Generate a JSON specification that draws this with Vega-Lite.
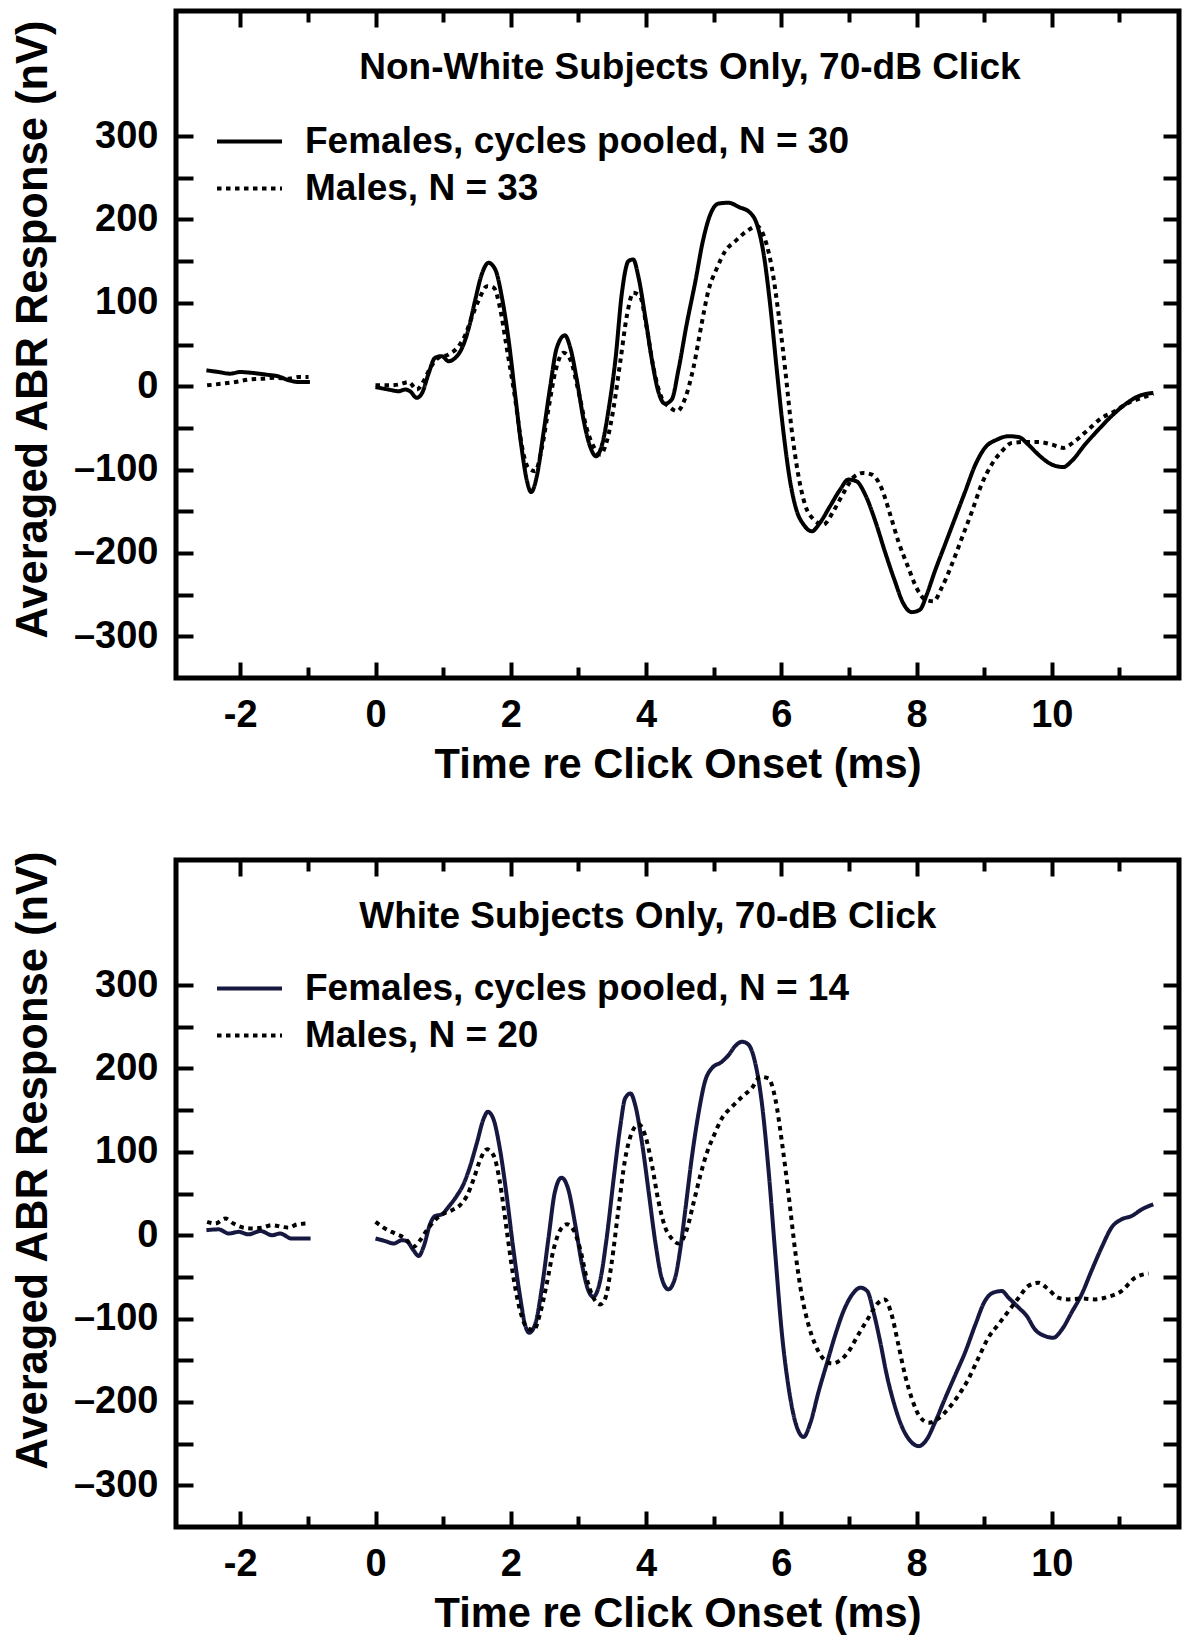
{
  "$schema": "https://vega.github.io/schema/vega-lite/v6.json",
  "padding": {"left": 8, "top": 6, "right": 5, "bottom": 0},
  "background": "white",
  "datasets": {
    "top": [
      {"t": -2.5, "v": 19, "g": "F", "s": "pre"}, {"t": -2.32, "v": 17, "g": "F", "s": "pre"}, {"t": -2.15, "v": 15, "g": "F", "s": "pre"}, {"t": -2.0, "v": 17, "g": "F", "s": "pre"}, {"t": -1.83, "v": 16, "g": "F", "s": "pre"}, {"t": -1.63, "v": 14, "g": "F", "s": "pre"}, {"t": -1.43, "v": 11.6, "g": "F", "s": "pre"}, {"t": -1.28, "v": 7, "g": "F", "s": "pre"}, {"t": -1.14, "v": 5, "g": "F", "s": "pre"}, {"t": -0.97, "v": 5, "g": "F", "s": "pre"},
      {"t": 0.0, "v": -1, "g": "F", "s": "post"}, {"t": 0.19, "v": -4, "g": "F", "s": "post"}, {"t": 0.34, "v": -6, "g": "F", "s": "post"}, {"t": 0.44, "v": -4, "g": "F", "s": "post"}, {"t": 0.51, "v": -6, "g": "F", "s": "post"}, {"t": 0.61, "v": -14, "g": "F", "s": "post"}, {"t": 0.69, "v": -8, "g": "F", "s": "post"}, {"t": 0.78, "v": 14, "g": "F", "s": "post"}, {"t": 0.88, "v": 34, "g": "F", "s": "post"}, {"t": 0.98, "v": 36, "g": "F", "s": "post"}, {"t": 1.08, "v": 30, "g": "F", "s": "post"}, {"t": 1.18, "v": 34, "g": "F", "s": "post"}, {"t": 1.28, "v": 46, "g": "F", "s": "post"}, {"t": 1.38, "v": 70, "g": "F", "s": "post"}, {"t": 1.47, "v": 102, "g": "F", "s": "post"}, {"t": 1.57, "v": 134, "g": "F", "s": "post"}, {"t": 1.67, "v": 148, "g": "F", "s": "post"}, {"t": 1.77, "v": 140, "g": "F", "s": "post"}, {"t": 1.87, "v": 106, "g": "F", "s": "post"}, {"t": 1.97, "v": 54, "g": "F", "s": "post"}, {"t": 2.07, "v": -14, "g": "F", "s": "post"}, {"t": 2.16, "v": -74, "g": "F", "s": "post"}, {"t": 2.24, "v": -114, "g": "F", "s": "post"}, {"t": 2.3, "v": -127, "g": "F", "s": "post"}, {"t": 2.39, "v": -106, "g": "F", "s": "post"}, {"t": 2.48, "v": -58, "g": "F", "s": "post"}, {"t": 2.58, "v": -2, "g": "F", "s": "post"}, {"t": 2.68, "v": 46, "g": "F", "s": "post"}, {"t": 2.8, "v": 61, "g": "F", "s": "post"}, {"t": 2.88, "v": 46, "g": "F", "s": "post"}, {"t": 2.98, "v": 6, "g": "F", "s": "post"}, {"t": 3.08, "v": -42, "g": "F", "s": "post"}, {"t": 3.18, "v": -74, "g": "F", "s": "post"}, {"t": 3.26, "v": -84, "g": "F", "s": "post"}, {"t": 3.35, "v": -70, "g": "F", "s": "post"}, {"t": 3.45, "v": -26, "g": "F", "s": "post"}, {"t": 3.55, "v": 34, "g": "F", "s": "post"}, {"t": 3.64, "v": 110, "g": "F", "s": "post"}, {"t": 3.74, "v": 150, "g": "F", "s": "post"}, {"t": 3.81, "v": 152, "g": "F", "s": "post"}, {"t": 3.89, "v": 130, "g": "F", "s": "post"}, {"t": 3.99, "v": 82, "g": "F", "s": "post"}, {"t": 4.09, "v": 30, "g": "F", "s": "post"}, {"t": 4.18, "v": -6, "g": "F", "s": "post"}, {"t": 4.28, "v": -21, "g": "F", "s": "post"}, {"t": 4.38, "v": -16, "g": "F", "s": "post"}, {"t": 4.48, "v": 20, "g": "F", "s": "post"}, {"t": 4.6, "v": 74, "g": "F", "s": "post"}, {"t": 4.73, "v": 126, "g": "F", "s": "post"}, {"t": 4.84, "v": 174, "g": "F", "s": "post"}, {"t": 4.95, "v": 206, "g": "F", "s": "post"}, {"t": 5.07, "v": 219, "g": "F", "s": "post"}, {"t": 5.22, "v": 220, "g": "F", "s": "post"}, {"t": 5.37, "v": 215, "g": "F", "s": "post"}, {"t": 5.54, "v": 208, "g": "F", "s": "post"}, {"t": 5.64, "v": 194, "g": "F", "s": "post"}, {"t": 5.74, "v": 158, "g": "F", "s": "post"}, {"t": 5.84, "v": 94, "g": "F", "s": "post"}, {"t": 5.93, "v": 22, "g": "F", "s": "post"}, {"t": 6.03, "v": -54, "g": "F", "s": "post"}, {"t": 6.13, "v": -114, "g": "F", "s": "post"}, {"t": 6.23, "v": -150, "g": "F", "s": "post"}, {"t": 6.33, "v": -166, "g": "F", "s": "post"}, {"t": 6.45, "v": -174, "g": "F", "s": "post"}, {"t": 6.57, "v": -164, "g": "F", "s": "post"}, {"t": 6.72, "v": -144, "g": "F", "s": "post"}, {"t": 6.87, "v": -124, "g": "F", "s": "post"}, {"t": 6.99, "v": -112, "g": "F", "s": "post"}, {"t": 7.11, "v": -114, "g": "F", "s": "post"}, {"t": 7.24, "v": -130, "g": "F", "s": "post"}, {"t": 7.39, "v": -162, "g": "F", "s": "post"}, {"t": 7.53, "v": -198, "g": "F", "s": "post"}, {"t": 7.68, "v": -234, "g": "F", "s": "post"}, {"t": 7.8, "v": -260, "g": "F", "s": "post"}, {"t": 7.93, "v": -271, "g": "F", "s": "post"}, {"t": 8.05, "v": -268, "g": "F", "s": "post"}, {"t": 8.15, "v": -250, "g": "F", "s": "post"}, {"t": 8.27, "v": -222, "g": "F", "s": "post"}, {"t": 8.42, "v": -190, "g": "F", "s": "post"}, {"t": 8.57, "v": -158, "g": "F", "s": "post"}, {"t": 8.72, "v": -126, "g": "F", "s": "post"}, {"t": 8.87, "v": -94, "g": "F", "s": "post"}, {"t": 9.01, "v": -74, "g": "F", "s": "post"}, {"t": 9.19, "v": -64, "g": "F", "s": "post"}, {"t": 9.36, "v": -60, "g": "F", "s": "post"}, {"t": 9.51, "v": -61, "g": "F", "s": "post"}, {"t": 9.65, "v": -70, "g": "F", "s": "post"}, {"t": 9.8, "v": -82, "g": "F", "s": "post"}, {"t": 10.0, "v": -94, "g": "F", "s": "post"}, {"t": 10.17, "v": -97, "g": "F", "s": "post"}, {"t": 10.29, "v": -90, "g": "F", "s": "post"}, {"t": 10.49, "v": -70, "g": "F", "s": "post"}, {"t": 10.69, "v": -52, "g": "F", "s": "post"}, {"t": 10.88, "v": -36, "g": "F", "s": "post"}, {"t": 11.08, "v": -22, "g": "F", "s": "post"}, {"t": 11.28, "v": -12, "g": "F", "s": "post"}, {"t": 11.5, "v": -8, "g": "F", "s": "post"},
      {"t": -2.49, "v": 1, "g": "M", "s": "pre"}, {"t": -2.27, "v": 3, "g": "M", "s": "pre"}, {"t": -2.07, "v": 5, "g": "M", "s": "pre"}, {"t": -1.88, "v": 8, "g": "M", "s": "pre"}, {"t": -1.68, "v": 9, "g": "M", "s": "pre"}, {"t": -1.48, "v": 10, "g": "M", "s": "pre"}, {"t": -1.28, "v": 9, "g": "M", "s": "pre"}, {"t": -1.14, "v": 11, "g": "M", "s": "pre"}, {"t": -0.99, "v": 11, "g": "M", "s": "pre"},
      {"t": 0.0, "v": 1, "g": "M", "s": "post"}, {"t": 0.19, "v": 1, "g": "M", "s": "post"}, {"t": 0.34, "v": 2, "g": "M", "s": "post"}, {"t": 0.49, "v": 5, "g": "M", "s": "post"}, {"t": 0.61, "v": -4, "g": "M", "s": "post"}, {"t": 0.71, "v": 6, "g": "M", "s": "post"}, {"t": 0.81, "v": 22, "g": "M", "s": "post"}, {"t": 0.93, "v": 34, "g": "M", "s": "post"}, {"t": 1.08, "v": 38, "g": "M", "s": "post"}, {"t": 1.23, "v": 48, "g": "M", "s": "post"}, {"t": 1.33, "v": 62, "g": "M", "s": "post"}, {"t": 1.42, "v": 82, "g": "M", "s": "post"}, {"t": 1.52, "v": 102, "g": "M", "s": "post"}, {"t": 1.65, "v": 120, "g": "M", "s": "post"}, {"t": 1.75, "v": 118, "g": "M", "s": "post"}, {"t": 1.84, "v": 94, "g": "M", "s": "post"}, {"t": 1.94, "v": 46, "g": "M", "s": "post"}, {"t": 2.07, "v": -18, "g": "M", "s": "post"}, {"t": 2.16, "v": -70, "g": "M", "s": "post"}, {"t": 2.26, "v": -98, "g": "M", "s": "post"}, {"t": 2.36, "v": -102, "g": "M", "s": "post"}, {"t": 2.46, "v": -74, "g": "M", "s": "post"}, {"t": 2.56, "v": -26, "g": "M", "s": "post"}, {"t": 2.66, "v": 18, "g": "M", "s": "post"}, {"t": 2.78, "v": 40, "g": "M", "s": "post"}, {"t": 2.88, "v": 32, "g": "M", "s": "post"}, {"t": 3.0, "v": -6, "g": "M", "s": "post"}, {"t": 3.12, "v": -50, "g": "M", "s": "post"}, {"t": 3.25, "v": -76, "g": "M", "s": "post"}, {"t": 3.32, "v": -82, "g": "M", "s": "post"}, {"t": 3.42, "v": -66, "g": "M", "s": "post"}, {"t": 3.52, "v": -26, "g": "M", "s": "post"}, {"t": 3.62, "v": 30, "g": "M", "s": "post"}, {"t": 3.72, "v": 86, "g": "M", "s": "post"}, {"t": 3.81, "v": 112, "g": "M", "s": "post"}, {"t": 3.91, "v": 108, "g": "M", "s": "post"}, {"t": 4.01, "v": 70, "g": "M", "s": "post"}, {"t": 4.11, "v": 22, "g": "M", "s": "post"}, {"t": 4.23, "v": -14, "g": "M", "s": "post"}, {"t": 4.36, "v": -26, "g": "M", "s": "post"}, {"t": 4.46, "v": -30, "g": "M", "s": "post"}, {"t": 4.58, "v": -14, "g": "M", "s": "post"}, {"t": 4.7, "v": 22, "g": "M", "s": "post"}, {"t": 4.82, "v": 74, "g": "M", "s": "post"}, {"t": 4.92, "v": 114, "g": "M", "s": "post"}, {"t": 5.05, "v": 142, "g": "M", "s": "post"}, {"t": 5.17, "v": 162, "g": "M", "s": "post"}, {"t": 5.32, "v": 174, "g": "M", "s": "post"}, {"t": 5.49, "v": 186, "g": "M", "s": "post"}, {"t": 5.64, "v": 192, "g": "M", "s": "post"}, {"t": 5.76, "v": 176, "g": "M", "s": "post"}, {"t": 5.86, "v": 142, "g": "M", "s": "post"}, {"t": 5.96, "v": 86, "g": "M", "s": "post"}, {"t": 6.06, "v": 18, "g": "M", "s": "post"}, {"t": 6.15, "v": -50, "g": "M", "s": "post"}, {"t": 6.25, "v": -106, "g": "M", "s": "post"}, {"t": 6.35, "v": -142, "g": "M", "s": "post"}, {"t": 6.48, "v": -160, "g": "M", "s": "post"}, {"t": 6.62, "v": -166, "g": "M", "s": "post"}, {"t": 6.77, "v": -150, "g": "M", "s": "post"}, {"t": 6.92, "v": -128, "g": "M", "s": "post"}, {"t": 7.07, "v": -109, "g": "M", "s": "post"}, {"t": 7.21, "v": -104, "g": "M", "s": "post"}, {"t": 7.34, "v": -106, "g": "M", "s": "post"}, {"t": 7.48, "v": -122, "g": "M", "s": "post"}, {"t": 7.61, "v": -154, "g": "M", "s": "post"}, {"t": 7.73, "v": -186, "g": "M", "s": "post"}, {"t": 7.88, "v": -218, "g": "M", "s": "post"}, {"t": 8.0, "v": -242, "g": "M", "s": "post"}, {"t": 8.13, "v": -256, "g": "M", "s": "post"}, {"t": 8.25, "v": -258, "g": "M", "s": "post"}, {"t": 8.37, "v": -242, "g": "M", "s": "post"}, {"t": 8.52, "v": -214, "g": "M", "s": "post"}, {"t": 8.67, "v": -182, "g": "M", "s": "post"}, {"t": 8.82, "v": -150, "g": "M", "s": "post"}, {"t": 8.96, "v": -118, "g": "M", "s": "post"}, {"t": 9.11, "v": -94, "g": "M", "s": "post"}, {"t": 9.26, "v": -78, "g": "M", "s": "post"}, {"t": 9.41, "v": -68, "g": "M", "s": "post"}, {"t": 9.6, "v": -67, "g": "M", "s": "post"}, {"t": 9.8, "v": -67, "g": "M", "s": "post"}, {"t": 10.0, "v": -70, "g": "M", "s": "post"}, {"t": 10.17, "v": -74, "g": "M", "s": "post"}, {"t": 10.34, "v": -66, "g": "M", "s": "post"}, {"t": 10.54, "v": -52, "g": "M", "s": "post"}, {"t": 10.74, "v": -38, "g": "M", "s": "post"}, {"t": 10.93, "v": -30, "g": "M", "s": "post"}, {"t": 11.13, "v": -20, "g": "M", "s": "post"}, {"t": 11.33, "v": -14, "g": "M", "s": "post"}, {"t": 11.5, "v": -9, "g": "M", "s": "post"}
    ],
    "bottom": [
      {"t": -2.5, "v": 6, "g": "F", "s": "pre"}, {"t": -2.32, "v": 7, "g": "F", "s": "pre"}, {"t": -2.17, "v": 2, "g": "F", "s": "pre"}, {"t": -2.02, "v": 4, "g": "F", "s": "pre"}, {"t": -1.88, "v": 1, "g": "F", "s": "pre"}, {"t": -1.7, "v": 5, "g": "F", "s": "pre"}, {"t": -1.53, "v": 0, "g": "F", "s": "pre"}, {"t": -1.41, "v": 2, "g": "F", "s": "pre"}, {"t": -1.24, "v": -4, "g": "F", "s": "pre"}, {"t": -0.96, "v": -4, "g": "F", "s": "pre"},
      {"t": 0.0, "v": -4, "g": "F", "s": "post"}, {"t": 0.14, "v": -7, "g": "F", "s": "post"}, {"t": 0.27, "v": -10, "g": "F", "s": "post"}, {"t": 0.39, "v": -6, "g": "F", "s": "post"}, {"t": 0.46, "v": -7, "g": "F", "s": "post"}, {"t": 0.56, "v": -18, "g": "F", "s": "post"}, {"t": 0.64, "v": -25, "g": "F", "s": "post"}, {"t": 0.71, "v": -14, "g": "F", "s": "post"}, {"t": 0.81, "v": 14, "g": "F", "s": "post"}, {"t": 0.88, "v": 23, "g": "F", "s": "post"}, {"t": 0.98, "v": 25, "g": "F", "s": "post"}, {"t": 1.08, "v": 34, "g": "F", "s": "post"}, {"t": 1.2, "v": 47, "g": "F", "s": "post"}, {"t": 1.3, "v": 61, "g": "F", "s": "post"}, {"t": 1.4, "v": 83, "g": "F", "s": "post"}, {"t": 1.5, "v": 111, "g": "F", "s": "post"}, {"t": 1.6, "v": 140, "g": "F", "s": "post"}, {"t": 1.66, "v": 148, "g": "F", "s": "post"}, {"t": 1.74, "v": 140, "g": "F", "s": "post"}, {"t": 1.84, "v": 103, "g": "F", "s": "post"}, {"t": 1.94, "v": 47, "g": "F", "s": "post"}, {"t": 2.04, "v": -18, "g": "F", "s": "post"}, {"t": 2.14, "v": -75, "g": "F", "s": "post"}, {"t": 2.21, "v": -107, "g": "F", "s": "post"}, {"t": 2.27, "v": -117, "g": "F", "s": "post"}, {"t": 2.36, "v": -107, "g": "F", "s": "post"}, {"t": 2.46, "v": -63, "g": "F", "s": "post"}, {"t": 2.56, "v": -2, "g": "F", "s": "post"}, {"t": 2.65, "v": 51, "g": "F", "s": "post"}, {"t": 2.75, "v": 69, "g": "F", "s": "post"}, {"t": 2.85, "v": 55, "g": "F", "s": "post"}, {"t": 2.95, "v": 14, "g": "F", "s": "post"}, {"t": 3.05, "v": -34, "g": "F", "s": "post"}, {"t": 3.15, "v": -67, "g": "F", "s": "post"}, {"t": 3.22, "v": -74, "g": "F", "s": "post"}, {"t": 3.32, "v": -55, "g": "F", "s": "post"}, {"t": 3.42, "v": -2, "g": "F", "s": "post"}, {"t": 3.52, "v": 67, "g": "F", "s": "post"}, {"t": 3.62, "v": 131, "g": "F", "s": "post"}, {"t": 3.69, "v": 164, "g": "F", "s": "post"}, {"t": 3.77, "v": 170, "g": "F", "s": "post"}, {"t": 3.84, "v": 156, "g": "F", "s": "post"}, {"t": 3.94, "v": 111, "g": "F", "s": "post"}, {"t": 4.04, "v": 51, "g": "F", "s": "post"}, {"t": 4.14, "v": -10, "g": "F", "s": "post"}, {"t": 4.23, "v": -51, "g": "F", "s": "post"}, {"t": 4.33, "v": -65, "g": "F", "s": "post"}, {"t": 4.43, "v": -51, "g": "F", "s": "post"}, {"t": 4.5, "v": -20, "g": "F", "s": "post"}, {"t": 4.58, "v": 30, "g": "F", "s": "post"}, {"t": 4.68, "v": 95, "g": "F", "s": "post"}, {"t": 4.78, "v": 148, "g": "F", "s": "post"}, {"t": 4.87, "v": 184, "g": "F", "s": "post"}, {"t": 4.97, "v": 200, "g": "F", "s": "post"}, {"t": 5.12, "v": 208, "g": "F", "s": "post"}, {"t": 5.22, "v": 216, "g": "F", "s": "post"}, {"t": 5.32, "v": 227, "g": "F", "s": "post"}, {"t": 5.42, "v": 232, "g": "F", "s": "post"}, {"t": 5.51, "v": 229, "g": "F", "s": "post"}, {"t": 5.61, "v": 208, "g": "F", "s": "post"}, {"t": 5.71, "v": 160, "g": "F", "s": "post"}, {"t": 5.81, "v": 79, "g": "F", "s": "post"}, {"t": 5.91, "v": -22, "g": "F", "s": "post"}, {"t": 6.01, "v": -119, "g": "F", "s": "post"}, {"t": 6.11, "v": -184, "g": "F", "s": "post"}, {"t": 6.21, "v": -225, "g": "F", "s": "post"}, {"t": 6.33, "v": -242, "g": "F", "s": "post"}, {"t": 6.43, "v": -225, "g": "F", "s": "post"}, {"t": 6.55, "v": -188, "g": "F", "s": "post"}, {"t": 6.68, "v": -152, "g": "F", "s": "post"}, {"t": 6.8, "v": -119, "g": "F", "s": "post"}, {"t": 6.92, "v": -91, "g": "F", "s": "post"}, {"t": 7.05, "v": -71, "g": "F", "s": "post"}, {"t": 7.17, "v": -63, "g": "F", "s": "post"}, {"t": 7.27, "v": -67, "g": "F", "s": "post"}, {"t": 7.36, "v": -91, "g": "F", "s": "post"}, {"t": 7.46, "v": -127, "g": "F", "s": "post"}, {"t": 7.56, "v": -168, "g": "F", "s": "post"}, {"t": 7.66, "v": -200, "g": "F", "s": "post"}, {"t": 7.78, "v": -229, "g": "F", "s": "post"}, {"t": 7.91, "v": -247, "g": "F", "s": "post"}, {"t": 8.03, "v": -253, "g": "F", "s": "post"}, {"t": 8.15, "v": -245, "g": "F", "s": "post"}, {"t": 8.27, "v": -225, "g": "F", "s": "post"}, {"t": 8.42, "v": -196, "g": "F", "s": "post"}, {"t": 8.57, "v": -168, "g": "F", "s": "post"}, {"t": 8.72, "v": -140, "g": "F", "s": "post"}, {"t": 8.87, "v": -107, "g": "F", "s": "post"}, {"t": 9.01, "v": -79, "g": "F", "s": "post"}, {"t": 9.13, "v": -69, "g": "F", "s": "post"}, {"t": 9.26, "v": -67, "g": "F", "s": "post"}, {"t": 9.36, "v": -75, "g": "F", "s": "post"}, {"t": 9.51, "v": -87, "g": "F", "s": "post"}, {"t": 9.63, "v": -97, "g": "F", "s": "post"}, {"t": 9.75, "v": -113, "g": "F", "s": "post"}, {"t": 9.9, "v": -121, "g": "F", "s": "post"}, {"t": 10.02, "v": -123, "g": "F", "s": "post"}, {"t": 10.15, "v": -113, "g": "F", "s": "post"}, {"t": 10.29, "v": -93, "g": "F", "s": "post"}, {"t": 10.44, "v": -71, "g": "F", "s": "post"}, {"t": 10.59, "v": -42, "g": "F", "s": "post"}, {"t": 10.74, "v": -14, "g": "F", "s": "post"}, {"t": 10.89, "v": 10, "g": "F", "s": "post"}, {"t": 11.03, "v": 19, "g": "F", "s": "post"}, {"t": 11.18, "v": 23, "g": "F", "s": "post"}, {"t": 11.33, "v": 31, "g": "F", "s": "post"}, {"t": 11.5, "v": 37, "g": "F", "s": "post"},
      {"t": -2.49, "v": 16, "g": "M", "s": "pre"}, {"t": -2.37, "v": 14, "g": "M", "s": "pre"}, {"t": -2.22, "v": 20, "g": "M", "s": "pre"}, {"t": -2.1, "v": 14, "g": "M", "s": "pre"}, {"t": -1.95, "v": 9, "g": "M", "s": "pre"}, {"t": -1.8, "v": 8, "g": "M", "s": "pre"}, {"t": -1.68, "v": 9, "g": "M", "s": "pre"}, {"t": -1.53, "v": 12, "g": "M", "s": "pre"}, {"t": -1.38, "v": 10, "g": "M", "s": "pre"}, {"t": -1.28, "v": 9, "g": "M", "s": "pre"}, {"t": -1.16, "v": 13, "g": "M", "s": "pre"}, {"t": -1.01, "v": 14, "g": "M", "s": "pre"},
      {"t": 0.0, "v": 16, "g": "M", "s": "post"}, {"t": 0.14, "v": 8, "g": "M", "s": "post"}, {"t": 0.29, "v": 2, "g": "M", "s": "post"}, {"t": 0.44, "v": -4, "g": "M", "s": "post"}, {"t": 0.56, "v": -14, "g": "M", "s": "post"}, {"t": 0.66, "v": -6, "g": "M", "s": "post"}, {"t": 0.76, "v": 6, "g": "M", "s": "post"}, {"t": 0.88, "v": 18, "g": "M", "s": "post"}, {"t": 1.01, "v": 26, "g": "M", "s": "post"}, {"t": 1.13, "v": 30, "g": "M", "s": "post"}, {"t": 1.25, "v": 36, "g": "M", "s": "post"}, {"t": 1.35, "v": 47, "g": "M", "s": "post"}, {"t": 1.45, "v": 67, "g": "M", "s": "post"}, {"t": 1.55, "v": 91, "g": "M", "s": "post"}, {"t": 1.65, "v": 103, "g": "M", "s": "post"}, {"t": 1.75, "v": 95, "g": "M", "s": "post"}, {"t": 1.84, "v": 63, "g": "M", "s": "post"}, {"t": 1.94, "v": 6, "g": "M", "s": "post"}, {"t": 2.04, "v": -51, "g": "M", "s": "post"}, {"t": 2.14, "v": -91, "g": "M", "s": "post"}, {"t": 2.24, "v": -111, "g": "M", "s": "post"}, {"t": 2.34, "v": -114, "g": "M", "s": "post"}, {"t": 2.43, "v": -95, "g": "M", "s": "post"}, {"t": 2.53, "v": -59, "g": "M", "s": "post"}, {"t": 2.63, "v": -18, "g": "M", "s": "post"}, {"t": 2.73, "v": 6, "g": "M", "s": "post"}, {"t": 2.83, "v": 13, "g": "M", "s": "post"}, {"t": 2.93, "v": 6, "g": "M", "s": "post"}, {"t": 3.03, "v": -18, "g": "M", "s": "post"}, {"t": 3.12, "v": -51, "g": "M", "s": "post"}, {"t": 3.22, "v": -75, "g": "M", "s": "post"}, {"t": 3.32, "v": -83, "g": "M", "s": "post"}, {"t": 3.4, "v": -75, "g": "M", "s": "post"}, {"t": 3.49, "v": -34, "g": "M", "s": "post"}, {"t": 3.59, "v": 30, "g": "M", "s": "post"}, {"t": 3.69, "v": 91, "g": "M", "s": "post"}, {"t": 3.79, "v": 123, "g": "M", "s": "post"}, {"t": 3.89, "v": 133, "g": "M", "s": "post"}, {"t": 3.99, "v": 119, "g": "M", "s": "post"}, {"t": 4.09, "v": 83, "g": "M", "s": "post"}, {"t": 4.18, "v": 42, "g": "M", "s": "post"}, {"t": 4.28, "v": 10, "g": "M", "s": "post"}, {"t": 4.38, "v": -4, "g": "M", "s": "post"}, {"t": 4.48, "v": -10, "g": "M", "s": "post"}, {"t": 4.6, "v": 6, "g": "M", "s": "post"}, {"t": 4.7, "v": 38, "g": "M", "s": "post"}, {"t": 4.8, "v": 71, "g": "M", "s": "post"}, {"t": 4.9, "v": 99, "g": "M", "s": "post"}, {"t": 5.0, "v": 119, "g": "M", "s": "post"}, {"t": 5.12, "v": 140, "g": "M", "s": "post"}, {"t": 5.27, "v": 154, "g": "M", "s": "post"}, {"t": 5.42, "v": 166, "g": "M", "s": "post"}, {"t": 5.56, "v": 176, "g": "M", "s": "post"}, {"t": 5.69, "v": 190, "g": "M", "s": "post"}, {"t": 5.81, "v": 188, "g": "M", "s": "post"}, {"t": 5.91, "v": 164, "g": "M", "s": "post"}, {"t": 6.01, "v": 111, "g": "M", "s": "post"}, {"t": 6.11, "v": 47, "g": "M", "s": "post"}, {"t": 6.21, "v": -22, "g": "M", "s": "post"}, {"t": 6.3, "v": -71, "g": "M", "s": "post"}, {"t": 6.4, "v": -107, "g": "M", "s": "post"}, {"t": 6.5, "v": -131, "g": "M", "s": "post"}, {"t": 6.62, "v": -148, "g": "M", "s": "post"}, {"t": 6.75, "v": -154, "g": "M", "s": "post"}, {"t": 6.87, "v": -150, "g": "M", "s": "post"}, {"t": 6.99, "v": -140, "g": "M", "s": "post"}, {"t": 7.14, "v": -119, "g": "M", "s": "post"}, {"t": 7.29, "v": -99, "g": "M", "s": "post"}, {"t": 7.41, "v": -83, "g": "M", "s": "post"}, {"t": 7.53, "v": -77, "g": "M", "s": "post"}, {"t": 7.63, "v": -95, "g": "M", "s": "post"}, {"t": 7.73, "v": -131, "g": "M", "s": "post"}, {"t": 7.83, "v": -168, "g": "M", "s": "post"}, {"t": 7.93, "v": -196, "g": "M", "s": "post"}, {"t": 8.05, "v": -218, "g": "M", "s": "post"}, {"t": 8.18, "v": -225, "g": "M", "s": "post"}, {"t": 8.32, "v": -220, "g": "M", "s": "post"}, {"t": 8.47, "v": -208, "g": "M", "s": "post"}, {"t": 8.62, "v": -192, "g": "M", "s": "post"}, {"t": 8.77, "v": -172, "g": "M", "s": "post"}, {"t": 8.91, "v": -148, "g": "M", "s": "post"}, {"t": 9.06, "v": -123, "g": "M", "s": "post"}, {"t": 9.21, "v": -107, "g": "M", "s": "post"}, {"t": 9.36, "v": -91, "g": "M", "s": "post"}, {"t": 9.51, "v": -75, "g": "M", "s": "post"}, {"t": 9.65, "v": -61, "g": "M", "s": "post"}, {"t": 9.8, "v": -57, "g": "M", "s": "post"}, {"t": 9.95, "v": -65, "g": "M", "s": "post"}, {"t": 10.09, "v": -75, "g": "M", "s": "post"}, {"t": 10.24, "v": -77, "g": "M", "s": "post"}, {"t": 10.44, "v": -76, "g": "M", "s": "post"}, {"t": 10.63, "v": -77, "g": "M", "s": "post"}, {"t": 10.83, "v": -74, "g": "M", "s": "post"}, {"t": 11.03, "v": -67, "g": "M", "s": "post"}, {"t": 11.23, "v": -51, "g": "M", "s": "post"}, {"t": 11.43, "v": -46, "g": "M", "s": "post"}
    ]
  },
  "spacing": 58,
  "vconcat": [
    {
      "width": 1003, "height": 667,
      "layer": [
        {
          "data": {"name": "top"},
          "mark": {"type": "line", "interpolate": "monotone", "strokeWidth": 4},
          "encoding": {
            "x": {"field": "t", "type": "quantitative", "scale": {"domain": [-2.95, 11.88], "nice": false, "zero": false},
              "axis": {"orient": "bottom", "values": [-2, 0, 2, 4, 6, 8, 10], "tickSize": -16, "labelPadding": 34, "labelExpr": "datum.value < 0 ? '-' + abs(datum.value) : '' + datum.value", "title": "Time re Click Onset (ms)", "titleFontSize": 41.6, "titlePadding": 10}},
            "y": {"field": "v", "type": "quantitative", "scale": {"domain": [-350, 450], "nice": false, "zero": false},
              "axis": {"orient": "left", "values": [-300, -250, -200, -150, -100, -50, 0, 50, 100, 150, 200, 250, 300], "tickSize": -17, "labelPadding": 35, "labelExpr": "datum.value % 100 != 0 ? '' : (datum.value < 0 ? '–' + abs(datum.value) : '' + datum.value)", "title": "Averaged ABR Response (nV)", "titleFontSize": 43.5, "titlePadding": 18, "titleY": 318}},
            "color": {"field": "g", "type": "nominal", "scale": {"domain": ["F", "M"], "range": ["#000000", "#000000"]},
              "legend": {"orient": "none", "legendX": 39, "legendY": 107, "title": null, "symbolType": "stroke", "symbolSize": 4225, "symbolStrokeWidth": 4, "labelFontSize": 37, "labelFont": "Liberation Sans", "labelFontWeight": "bold", "labelColor": "black", "labelOffset": 21, "rowPadding": 0, "clipHeight": 47, "padding": 0, "labelLimit": 0, "labelExpr": "datum.label == 'F' ? 'Females, cycles pooled, N = 30' : 'Males, N = 33'"}},
            "strokeDash": {"field": "g", "type": "nominal", "scale": {"domain": ["F", "M"], "range": [[1, 0], [4.5, 4.5]]},
              "legend": {"orient": "none", "legendX": 39, "legendY": 107, "title": null, "symbolType": "stroke", "symbolSize": 4225, "symbolStrokeWidth": 4, "labelFontSize": 37, "labelFont": "Liberation Sans", "labelFontWeight": "bold", "labelColor": "black", "labelOffset": 21, "rowPadding": 0, "clipHeight": 47, "padding": 0, "labelLimit": 0, "labelExpr": "datum.label == 'F' ? 'Females, cycles pooled, N = 30' : 'Males, N = 33'"}},
            "detail": {"field": "s"}
          }
        },
        {
          "data": {"name": "top"},
          "mark": {"type": "line", "opacity": 0},
          "encoding": {
            "x": {"field": "t", "type": "quantitative", "axis": {"orient": "top", "values": [-2, 0, 2, 4, 6, 8, 10], "tickSize": -16, "labels": false, "title": null}},
            "y": {"field": "v", "type": "quantitative", "axis": {"orient": "right", "values": [-300, -250, -200, -150, -100, -50, 0, 50, 100, 150, 200, 250, 300], "tickSize": -16, "labels": false, "title": null}}
          }
        },
        {
          "data": {"name": "top"},
          "mark": {"type": "line", "opacity": 0},
          "encoding": {
            "x": {"field": "t", "type": "quantitative", "axis": {"orient": "bottom", "values": [-1, 1, 3, 5, 7, 9, 11], "tickSize": -11, "labels": false, "title": null}},
            "y": {"field": "v", "type": "quantitative", "axis": null}
          }
        },
        {
          "data": {"name": "top"},
          "mark": {"type": "line", "opacity": 0},
          "encoding": {
            "x": {"field": "t", "type": "quantitative", "axis": {"orient": "top", "values": [-1, 1, 3, 5, 7, 9, 11], "tickSize": -11, "labels": false, "title": null}},
            "y": {"field": "v", "type": "quantitative", "axis": null}
          }
        },
        {
          "data": {"values": [{"label": "Non-White Subjects Only, 70-dB Click"}]},
          "mark": {"type": "text", "align": "left", "baseline": "middle", "fontSize": 37, "fontWeight": "bold", "font": "Liberation Sans", "fill": "black"},
          "encoding": {
            "text": {"field": "label"},
            "x": {"datum": -0.24, "type": "quantitative", "axis": null},
            "y": {"datum": 382, "type": "quantitative", "axis": null}
          }
        }
      ],
      "resolve": {"axis": {"x": "independent", "y": "independent"}}
    },
    {
      "width": 1003, "height": 667,
      "layer": [
        {
          "data": {"name": "bottom"},
          "mark": {"type": "line", "interpolate": "monotone", "strokeWidth": 4},
          "encoding": {
            "x": {"field": "t", "type": "quantitative", "scale": {"domain": [-2.95, 11.88], "nice": false, "zero": false},
              "axis": {"orient": "bottom", "values": [-2, 0, 2, 4, 6, 8, 10], "tickSize": -16, "labelPadding": 34, "labelExpr": "datum.value < 0 ? '-' + abs(datum.value) : '' + datum.value", "title": "Time re Click Onset (ms)", "titleFontSize": 41.6, "titlePadding": 10}},
            "y": {"field": "v", "type": "quantitative", "scale": {"domain": [-350, 450], "nice": false, "zero": false},
              "axis": {"orient": "left", "values": [-300, -250, -200, -150, -100, -50, 0, 50, 100, 150, 200, 250, 300], "tickSize": -17, "labelPadding": 35, "labelExpr": "datum.value % 100 != 0 ? '' : (datum.value < 0 ? '–' + abs(datum.value) : '' + datum.value)", "title": "Averaged ABR Response (nV)", "titleFontSize": 43.5, "titlePadding": 18, "titleY": 300}},
            "color": {"field": "g", "type": "nominal", "scale": {"domain": ["F", "M"], "range": ["#16183f", "#000000"]},
              "legend": {"orient": "none", "legendX": 39, "legendY": 105, "title": null, "symbolType": "stroke", "symbolSize": 4225, "symbolStrokeWidth": 4, "labelFontSize": 37, "labelFont": "Liberation Sans", "labelFontWeight": "bold", "labelColor": "black", "labelOffset": 21, "rowPadding": 0, "clipHeight": 47, "padding": 0, "labelLimit": 0, "labelExpr": "datum.label == 'F' ? 'Females, cycles pooled, N = 14' : 'Males, N = 20'"}},
            "strokeDash": {"field": "g", "type": "nominal", "scale": {"domain": ["F", "M"], "range": [[1, 0], [4.5, 4.5]]},
              "legend": {"orient": "none", "legendX": 39, "legendY": 105, "title": null, "symbolType": "stroke", "symbolSize": 4225, "symbolStrokeWidth": 4, "labelFontSize": 37, "labelFont": "Liberation Sans", "labelFontWeight": "bold", "labelColor": "black", "labelOffset": 21, "rowPadding": 0, "clipHeight": 47, "padding": 0, "labelLimit": 0, "labelExpr": "datum.label == 'F' ? 'Females, cycles pooled, N = 14' : 'Males, N = 20'"}},
            "detail": {"field": "s"}
          }
        },
        {
          "data": {"name": "bottom"},
          "mark": {"type": "line", "opacity": 0},
          "encoding": {
            "x": {"field": "t", "type": "quantitative", "axis": {"orient": "top", "values": [-2, 0, 2, 4, 6, 8, 10], "tickSize": -16, "labels": false, "title": null}},
            "y": {"field": "v", "type": "quantitative", "axis": {"orient": "right", "values": [-300, -250, -200, -150, -100, -50, 0, 50, 100, 150, 200, 250, 300], "tickSize": -16, "labels": false, "title": null}}
          }
        },
        {
          "data": {"name": "bottom"},
          "mark": {"type": "line", "opacity": 0},
          "encoding": {
            "x": {"field": "t", "type": "quantitative", "axis": {"orient": "bottom", "values": [-1, 1, 3, 5, 7, 9, 11], "tickSize": -11, "labels": false, "title": null}},
            "y": {"field": "v", "type": "quantitative", "axis": null}
          }
        },
        {
          "data": {"name": "bottom"},
          "mark": {"type": "line", "opacity": 0},
          "encoding": {
            "x": {"field": "t", "type": "quantitative", "axis": {"orient": "top", "values": [-1, 1, 3, 5, 7, 9, 11], "tickSize": -11, "labels": false, "title": null}},
            "y": {"field": "v", "type": "quantitative", "axis": null}
          }
        },
        {
          "data": {"values": [{"label": "White Subjects Only, 70-dB Click"}]},
          "mark": {"type": "text", "align": "left", "baseline": "middle", "fontSize": 37, "fontWeight": "bold", "font": "Liberation Sans", "fill": "black"},
          "encoding": {
            "text": {"field": "label"},
            "x": {"datum": -0.24, "type": "quantitative", "axis": null},
            "y": {"datum": 382, "type": "quantitative", "axis": null}
          }
        }
      ],
      "resolve": {"axis": {"x": "independent", "y": "independent"}}
    }
  ],
  "resolve": {"scale": {"color": "independent", "strokeDash": "independent"}, "legend": {"color": "independent", "strokeDash": "independent"}},
  "config": {
    "font": "Liberation Sans",
    "view": {"stroke": "black", "strokeWidth": 5},
    "axis": {"domain": false, "grid": false, "tickColor": "black", "tickWidth": 4, "labelFont": "Liberation Sans", "labelFontWeight": "bold", "labelFontSize": 38, "labelColor": "black", "labelOverlap": false, "labelFlush": false, "titleFont": "Liberation Sans", "titleFontWeight": "bold", "titleFontSize": 42, "titleColor": "black"}
  }
}
